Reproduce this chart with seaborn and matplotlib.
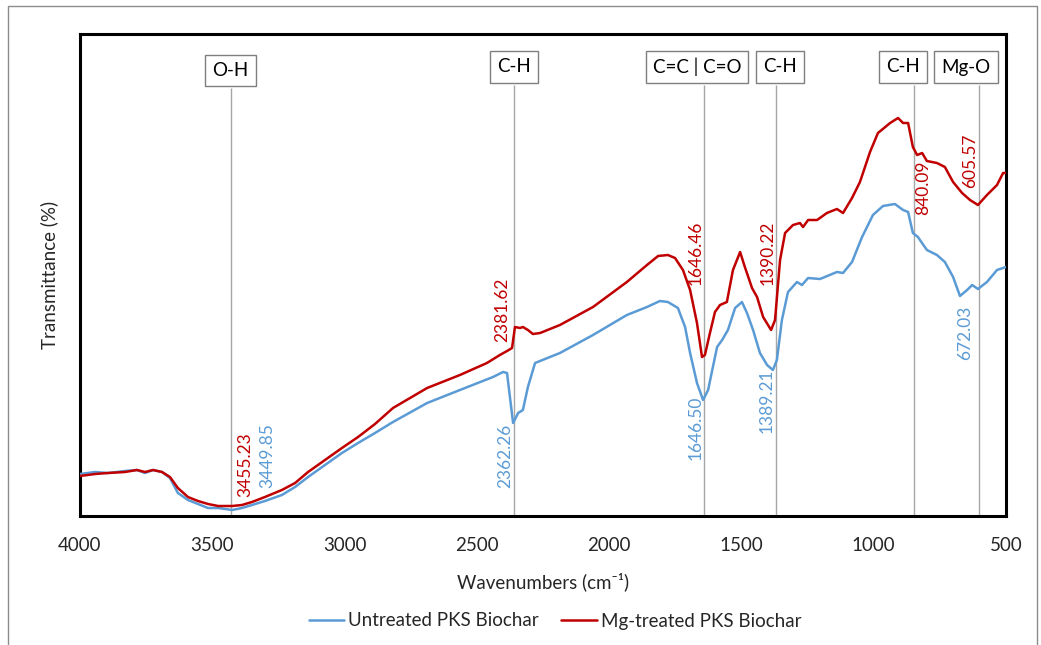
import numpy as np
import pandas as pd
import matplotlib
matplotlib.use("Agg")
import matplotlib.pyplot as plt
from matplotlib.patches import Rectangle
from matplotlib.lines import Line2D
import seaborn as sns

# ---------------- data ----------------
red_wn = [4000, 3943, 3894, 3830, 3785, 3754, 3724, 3690, 3660, 3630, 3592, 3554, 3516, 3478,
          3425, 3388, 3350, 3301, 3237, 3187, 3138, 3074, 3010, 2949, 2885, 2817, 2688, 2564,
          2462, 2413, 2386, 2367, 2356, 2337, 2326, 2307, 2288, 2261, 2186, 2061, 1933, 1857,
          1815, 1778, 1751, 1721, 1694, 1668, 1649, 1638, 1619, 1600, 1581, 1555, 1532, 1505,
          1487, 1460, 1441, 1418, 1388, 1373, 1354, 1335, 1305, 1279, 1267, 1248, 1214, 1177,
          1139, 1116, 1082, 1052, 1014, 984, 938, 908, 889, 870, 852, 836, 817, 799, 761, 731,
          700, 666, 636, 606, 572, 534, 511, 500]
red_t = [54.0, 54.2, 54.3, 54.4, 54.6, 54.4, 54.6, 54.4, 53.9, 52.8, 51.9, 51.5, 51.2, 51.0,
         51.0, 51.1, 51.4, 51.9, 52.6, 53.3, 54.4, 55.6, 56.8, 57.9, 59.2, 60.8, 62.8, 64.1,
         65.3, 66.1, 66.5, 66.8, 68.9, 68.8, 68.9, 68.6, 68.2, 68.3, 69.1, 70.9, 73.4, 75.1,
         76.0, 76.1, 75.8, 74.6, 72.6, 69.3, 65.9, 66.1, 68.3, 70.4, 71.1, 71.4, 74.6, 76.4,
         74.9, 72.8, 71.9, 69.9, 68.6, 69.6, 75.6, 78.3, 79.1, 79.3, 78.9, 79.6, 79.6, 80.3,
         80.7, 80.3, 81.8, 83.4, 86.4, 88.3, 89.3, 89.8, 89.3, 89.3, 86.9, 86.1, 86.3, 85.5,
         85.3, 84.9, 83.4, 82.3, 81.6, 81.1, 82.1, 83.1, 84.3, 84.3]

blue_wn = [4000, 3943, 3894, 3830, 3785, 3754, 3724, 3690, 3660, 3630, 3592, 3554, 3516, 3478,
           3425, 3388, 3350, 3301, 3237, 3187, 3138, 3074, 3010, 2949, 2885, 2817, 2688, 2564,
           2439, 2401, 2386, 2375, 2363, 2344, 2326, 2307, 2280, 2186, 2061, 1933, 1857, 1808,
           1778, 1740, 1713, 1694, 1668, 1645, 1626, 1592, 1573, 1551, 1524, 1498, 1479, 1456,
           1430, 1403, 1381, 1366, 1347, 1324, 1290, 1271, 1248, 1203, 1139, 1116, 1082, 1044,
           1003, 965, 920, 889, 870, 852, 833, 799, 761, 731, 700, 674, 647, 628, 606, 572, 534, 500]
blue_t = [54.2, 54.4, 54.3, 54.5, 54.6, 54.3, 54.6, 54.4, 53.8, 52.3, 51.6, 51.2, 50.8, 50.8,
          50.6, 50.8, 51.1, 51.5, 52.1, 52.9, 53.9, 55.1, 56.3, 57.3, 58.3, 59.4, 61.3, 62.6,
          63.9, 64.4, 64.3, 61.9, 59.3, 60.3, 60.6, 62.9, 65.3, 66.3, 68.1, 70.1, 70.9, 71.5,
          71.4, 70.8, 68.9, 66.3, 63.3, 61.6, 62.6, 66.9, 67.6, 68.6, 70.8, 71.4, 70.3, 68.6,
          66.3, 65.1, 64.6, 65.6, 69.6, 72.4, 73.4, 73.1, 73.8, 73.7, 74.4, 74.3, 75.4, 77.9,
          80.1, 81.0, 81.2, 80.6, 80.4, 78.3, 77.9, 76.6, 76.1, 75.4, 73.9, 72.0, 72.6, 73.1,
          72.7, 73.4, 74.6, 74.9]

series_names = ["Untreated PKS Biochar", "Mg-treated PKS Biochar"]
series_colors = ["#5B9BD5", "#C00000"]

# peak labels: (text, wavenumber, transmittance at label bottom, series index)
peak_text = ["3455.23", "3449.85", "2381.62", "2362.26", "1646.46", "1646.50",
             "1390.22", "1389.21", "840.09", "605.57", "672.03"]
peak_wn = [3376, 3293, 2405, 2394, 1675, 1675, 1400, 1403, 813, 636, 655]
peak_t = [51.9, 52.8, 67.4, 52.8, 73.1, 55.6, 73.1, 58.3, 80.1, 82.8, 65.6]
peak_series = [1, 0, 1, 0, 1, 0, 1, 0, 1, 1, 0]

# functional group markers
group_line_wn = [3430, 2360, 1642, 1368, 848, 602]
group_box_wn = [3431, 2360, 1668, 1354, 891, 651]
group_labels = ["O-H", "C-H", "C=C | C=O", "C-H", "C-H", "Mg-O"]
group_box_t = [94.55, 94.9, 94.9, 94.9, 94.9, 94.9]
group_line_top = [92.8, 93.1, 93.1, 93.1, 93.1, 93.1]

xticks = [4000, 3500, 3000, 2500, 2000, 1500, 1000, 500]

# ---------------- figure ----------------
sns.set_theme(style="white")
plt.rcParams["font.family"] = ["Lato", "DejaVu Sans"]

fig = plt.figure(figsize=(10.41, 6.45), dpi=100)
ax = fig.add_axes([80 / 1041, 1 - 516 / 645, (1006 - 80) / 1041, (516 - 34) / 645])

df = pd.concat([
    pd.DataFrame({"Wavenumber": blue_wn, "T": blue_t, "Series": series_names[0]}),
    pd.DataFrame({"Wavenumber": red_wn, "T": red_t, "Series": series_names[1]}),
])

ymin, ymax = 50, 98.2

for i in range(len(group_line_wn)):
    ax.vlines(group_line_wn[i], ymin, group_line_top[i], color="#A6A6A6", lw=1.0, zorder=1)

sns.lineplot(data=df, x="Wavenumber", y="T", hue="Series", hue_order=series_names,
             palette=series_colors, estimator=None, sort=True, lw=1.8, ax=ax,
             legend=False, zorder=3)

for txt, w, t, s in zip(peak_text, peak_wn, peak_t, peak_series):
    ax.text(w, t, txt, rotation=90, ha="center", va="bottom", fontsize=12.5,
            color=series_colors[s], zorder=4)

for w, t, lab in zip(group_box_wn, group_box_t, group_labels):
    ax.text(w, t, lab, ha="center", va="center", fontsize=13.5, color="black", zorder=5,
            bbox=dict(boxstyle="square,pad=0.38", fc="white", ec="#7F7F7F", lw=1.0))

ax.set_xlim(4000, 500)
ax.set_ylim(ymin, ymax)
ax.set_xticks(xticks)
ax.set_xticklabels([str(v) for v in xticks], fontsize=13.5)
ax.set_yticks([])
ax.tick_params(axis="x", length=0, pad=15)
ax.set_xlabel("Wavenumbers (cm\u207b\u00b9)", fontsize=13.5, labelpad=13)
ax.set_ylabel("Transmittance (%)", fontsize=13.5, labelpad=16)
for sp in ax.spines.values():
    sp.set_visible(True)
    sp.set_color("black")
    sp.set_linewidth(2.2)

handles = [Line2D([], [], color=c, lw=1.8) for c in series_colors]
fig.legend(handles, series_names, loc="center", bbox_to_anchor=(555 / 1041, 1 - 621 / 645),
           ncol=2, frameon=False, fontsize=13.5, handlelength=1.9, handletextpad=0.2,
           columnspacing=1.2)

fig.patches.append(Rectangle((8 / 1041, -0.05), (1037 - 8) / 1041, 1.05 - 6 / 645,
                             transform=fig.transFigure, fill=False, ec="#8C8C8C", lw=1.0))

fig.savefig("out.png", dpi=100)
